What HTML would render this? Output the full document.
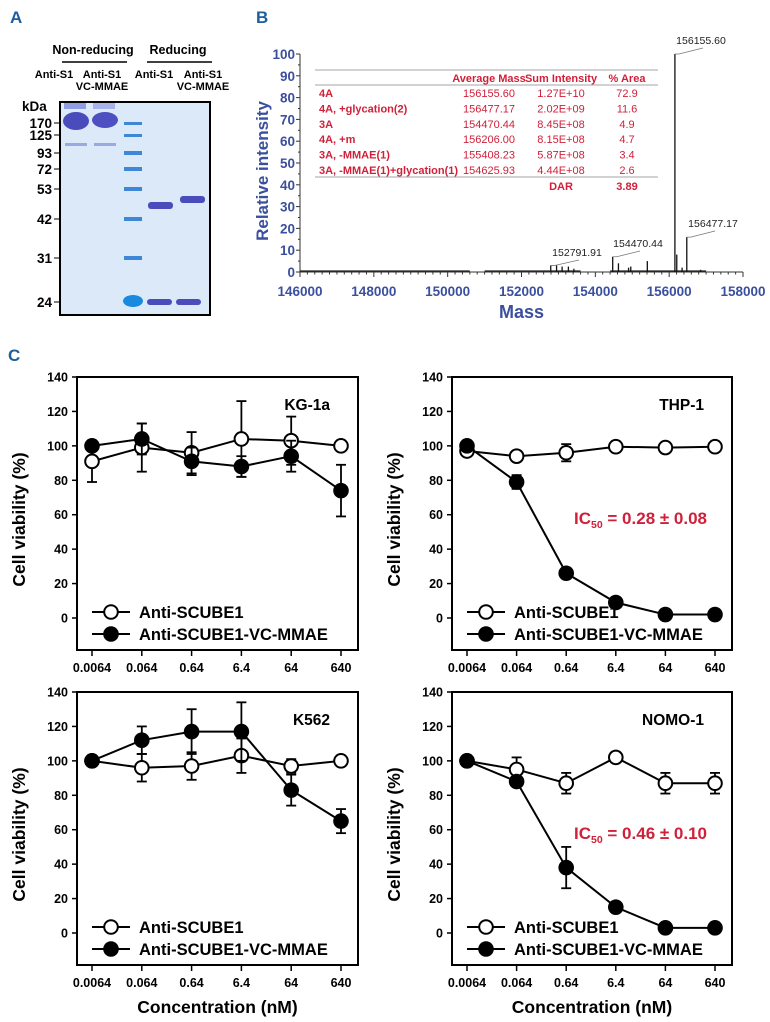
<!DOCTYPE html>
<html><head><meta charset="utf-8">
<style>
html,body{margin:0;padding:0;background:#fff;}
svg{display:block;font-family:"Liberation Sans",Arial,sans-serif;}
.b{font-weight:bold;}
</style></head>
<body>
<svg id="fig" width="770" height="1022" viewBox="0 0 770 1022" xmlns="http://www.w3.org/2000/svg">
<!-- Panel A -->
<g>
<text x="10" y="23" font-size="17" class="b" fill="#1d5f9c">A</text>
<text x="93" y="54" font-size="12.5" class="b" text-anchor="middle">Non-reducing</text>
<line x1="62" y1="62" x2="127" y2="62" stroke="#000" stroke-width="1.5"/>
<text x="178" y="54" font-size="12.5" class="b" text-anchor="middle">Reducing</text>
<line x1="147" y1="62" x2="212" y2="62" stroke="#000" stroke-width="1.5"/>
<g font-size="11" class="b" text-anchor="middle">
<text x="54" y="78">Anti-S1</text>
<text x="102" y="78">Anti-S1</text><text x="102" y="90">VC-MMAE</text>
<text x="154" y="78">Anti-S1</text>
<text x="203" y="78">Anti-S1</text><text x="203" y="90">VC-MMAE</text>
</g>
<rect x="60" y="102" width="150" height="213" fill="#dce9f8" stroke="#000" stroke-width="2"/>
<g>
<rect x="64" y="103" width="22" height="6" fill="#8f9ee0"/>
<rect x="93" y="103" width="22" height="6" fill="#a6b4e8"/>
<ellipse cx="76" cy="121" rx="13" ry="9" fill="#4a4cbc"/>
<ellipse cx="105" cy="120" rx="13" ry="8" fill="#4d50c0"/>
<rect x="65" y="143" width="22" height="3" fill="#9aaae0"/>
<rect x="94" y="143" width="22" height="3" fill="#9aaae0"/>
<g fill="#3e86d6">
<rect x="124" y="122" width="18" height="3"/><rect x="124" y="134" width="18" height="3"/>
<rect x="124" y="151" width="18" height="4"/><rect x="124" y="167" width="18" height="4"/>
<rect x="124" y="187" width="18" height="4"/><rect x="124" y="217" width="18" height="4"/>
<rect x="124" y="256" width="18" height="4"/>
</g>
<ellipse cx="133" cy="301" rx="10" ry="6" fill="#1a8ae0"/>
<rect x="148" y="202" width="25" height="7" rx="3" fill="#4a4cbc"/>
<rect x="180" y="196" width="25" height="7" rx="3" fill="#4a4cbc"/>
<rect x="147" y="299" width="25" height="6" rx="3" fill="#4a4cbc"/>
<rect x="176" y="299" width="25" height="6" rx="3" fill="#4a4cbc"/>
</g>
<text x="22" y="111" font-size="13.5" class="b">kDa</text>
<g font-size="13.5" class="b" text-anchor="end">
<text x="52" y="128">170</text><text x="52" y="140">125</text><text x="52" y="158">93</text>
<text x="52" y="174">72</text><text x="52" y="194">53</text><text x="52" y="224">42</text>
<text x="52" y="263">31</text><text x="52" y="307">24</text>
</g>
<g stroke="#000" stroke-width="1">
<line x1="54" y1="123" x2="60" y2="123"/><line x1="54" y1="135" x2="60" y2="135"/><line x1="54" y1="153" x2="60" y2="153"/>
<line x1="54" y1="169" x2="60" y2="169"/><line x1="54" y1="189" x2="60" y2="189"/><line x1="54" y1="219" x2="60" y2="219"/>
<line x1="54" y1="258" x2="60" y2="258"/><line x1="54" y1="302" x2="60" y2="302"/>
</g>
</g>
<!-- Panel B -->
<g id="panelB">
<text x="256" y="23" font-size="17" class="b" fill="#1d5f9c">B</text>
</g>
<!-- Panel C -->
<g id="panelC">
<text x="8" y="361" font-size="17" class="b" fill="#1d5f9c">C</text>
</g>
</svg>
<script>
// ---- Panel B data ----
const massTicks = [146000,148000,150000,152000,154000,156000,158000];
const intensityTicks = [0,10,20,30,40,50,60,70,80,90,100];
const peakMasses = [152791.91,152950,153100,153270,153420,154470.44,154625.93,154900,154960,155408.23,156155.60,156206.00,156350,156477.17,156850];
const peakIntensities = [3,3,2.5,2.5,1.5,7,4,2,2.5,5,100,8,2,16,1];
const peakLabelMasses = ['156155.60','156477.17','154470.44','152791.91'];
const tableHeaders = ['Average Mass','Sum Intensity','% Area'];
const tableSpecies = ['4A','4A, +glycation(2)','3A','4A, +m','3A, -MMAE(1)','3A, -MMAE(1)+glycation(1)'];
const tableMass = ['156155.60','156477.17','154470.44','156206.00','155408.23','154625.93'];
const tableSum = ['1.27E+10','2.02E+09','8.45E+08','8.15E+08','5.87E+08','4.44E+08'];
const tableArea = ['72.9','11.6','4.9','4.7','3.4','2.6'];
const darValue = '3.89';

// ---- Panel C data ----
const concLabels = ['0.0064','0.064','0.64','6.4','64','640'];
const yTicksC = [0,20,40,60,80,100,120,140];
const kgOpen = [91,99,96,104,103,100];
const kgOpenErr = [12,14,12,22,14,1];
const kgFilled = [100,104,91,88,94,74];
const kgFilledErr = [1,9,8,6,9,15];
const thpOpen = [97,94,96,99.5,99,99.5];
const thpOpenErr = [2,2,5,2,1,1];
const thpFilled = [100,79,26,9,2,2];
const thpFilledErr = [1,4,3,1,1,1];
const k562Open = [100,96,97,103,97,100];
const k562OpenErr = [1,8,8,10,4,1];
const k562Filled = [100,112,117,117,83,65];
const k562FilledErr = [1,8,13,17,9,7];
const nomoOpen = [100,95,87,102,87,87];
const nomoOpenErr = [1,7,6,3,6,6];
const nomoFilled = [100,88,38,15,3,3];
const nomoFilledErr = [1,2,12,1,1,1];

const NS='http://www.w3.org/2000/svg';
function mk(tag, attrs, parent, text){
  const e=document.createElementNS(NS,tag);
  for(const k in attrs) e.setAttribute(k,attrs[k]);
  if(text!==undefined) e.textContent=text;
  parent.appendChild(e); return e;
}

// ---- draw Panel B ----
(function(){
  const g=document.getElementById('panelB');
  const xL=300,xR=743,y0=272,yT=54;
  const xs=m=>xL+(m-146000)/(158000-146000)*(xR-xL);
  const ys=v=>y0-v/100*(y0-yT);
  const blue='#3b4f9f';
  const ax=mk('g',{},g);
  
  
  mk('line',{x1:xL,y1:yT,x2:xL,y2:y0,stroke:'#333','stroke-width':1},ax);
  mk('line',{x1:xL,y1:y0,x2:xR,y2:y0,stroke:'#333','stroke-width':1},ax);
  intensityTicks.forEach(v=>{
    mk('line',{x1:xL-4,y1:ys(v),x2:xL,y2:ys(v),stroke:'#333'},ax);
    const t=mk('text',{x:xL-5,y:ys(v)+5,'font-size':13.5,'font-weight':'bold',fill:blue,'text-anchor':'end'},ax,v);
    
    
    if(v<100) mk('line',{x1:xL-2,y1:ys(v+5),x2:xL,y2:ys(v+5),stroke:'#333'},ax);
  });
  massTicks.forEach((m,i)=>{
    mk('line',{x1:xs(m),y1:y0,x2:xs(m),y2:y0+5,stroke:'#333'},ax);
    if(i<massTicks.length-1) for(let k=1;k<10;k++) mk('line',{x1:xs(m+k*200),y1:y0,x2:xs(m+k*200),y2:y0+2.5,stroke:'#333'},ax);
    const t=mk('text',{x:xs(m),y:y0+24,'font-size':13.5,'font-weight':'bold',fill:blue,'text-anchor':'middle'},ax,m);
    
    
  });
  const xt=mk('text',{x:(xL+xR)/2,y:318,'font-size':18,'font-weight':'bold',fill:blue,'text-anchor':'middle'},g,'Mass');
  
  
  const yt=mk('text',{x:0,y:0,'font-size':17,'font-weight':'bold',fill:blue,'text-anchor':'middle',transform:`translate(268,${(yT+y0)/2+8}) rotate(-90)`},g,'Relative intensity');
  
  
  const noise=mk('path',{d:`M${xL} ${y0-1}L${xs(150600)} ${y0-1}M${xs(151000)} ${y0-1}L${xs(153600)} ${y0-1}M${xs(154400)} ${y0-1}L${xs(157000)} ${y0-1}`,stroke:'#222','stroke-width':1.2,fill:'none'},g);
  
  
  peakMasses.forEach((m,i)=>{
    const p=mk('line',{x1:xs(m),y1:y0,x2:xs(m),y2:ys(peakIntensities[i]),stroke:'#111','stroke-width':1.3},g);
    
    
  });
  const lbl=[[156155.60,100,701,44],[156477.17,16,713,227],[154470.44,7,638,247],[152791.91,3,577,256]];
  lbl.forEach((l,i)=>{
    mk('polyline',{points:`${xs(l[0])},${ys(l[1])} ${xs(l[0])+4},${ys(l[1])} ${l[2]+2},${l[3]+4}`,fill:'none',stroke:'#777','stroke-width':0.8},g);
    const t=mk('text',{x:l[2],y:l[3],'font-size':10.5,fill:'#222','text-anchor':'middle'},g,peakLabelMasses[i]);
    
    
  });
  const tg=mk('g',{'font-size':11,fill:'#d0203a','font-weight':'bold'},g);
  
  
  mk('line',{x1:315,y1:70,x2:658,y2:70,stroke:'#888','stroke-width':0.8},tg);
  mk('line',{x1:315,y1:85,x2:658,y2:85,stroke:'#888','stroke-width':0.8},tg);
  mk('line',{x1:315,y1:177,x2:658,y2:177,stroke:'#888','stroke-width':0.8},tg);
  const cx=[489,561,627];
  tableHeaders.forEach((h,i)=>mk('text',{x:cx[i],y:82,'text-anchor':'middle'},tg,h));
  tableSpecies.forEach((s,i)=>{
    const y=97+i*15.4;
    mk('text',{x:319,y:y},tg,s);
    mk('text',{x:cx[0],y:y,'text-anchor':'middle','font-weight':'normal'},tg,tableMass[i]);
    mk('text',{x:cx[1],y:y,'text-anchor':'middle','font-weight':'normal'},tg,tableSum[i]);
    mk('text',{x:cx[2],y:y,'text-anchor':'middle','font-weight':'normal'},tg,tableArea[i]);
  });
  mk('text',{x:cx[1],y:190,'text-anchor':'middle'},tg,'DAR');
  mk('text',{x:cx[2],y:190,'text-anchor':'middle'},tg,darValue);
})();

// ---- draw Panel C ----
function drawChart(cfg){
  const g=mk('g',{},document.getElementById('panelC'));
  
  
  const {xL,xR,yT,y0,yB}=cfg;
  const ys=v=>y0-v/140*(y0-yT);
  const xs=i=>xL+15+i*((xR-xL-32)/5);
  const fr=mk('rect',{x:xL,y:yT,width:xR-xL,height:yB-yT,fill:'none',stroke:'#000','stroke-width':2},g);
  
  
  yTicksC.forEach(v=>{
    mk('line',{x1:xL-5,y1:ys(v),x2:xL,y2:ys(v),stroke:'#000','stroke-width':1.5},g);
    const t=mk('text',{x:xL-9,y:ys(v)+4.5,'font-size':12.5,'font-weight':'bold','text-anchor':'end'},g,v);
    
    
  });
  concLabels.forEach((c,i)=>{
    mk('line',{x1:xs(i),y1:yB,x2:xs(i),y2:yB+6,stroke:'#000','stroke-width':1.5},g);
    const t=mk('text',{x:xs(i),y:yB+22,'font-size':12.5,'font-weight':'bold','text-anchor':'middle'},g,c);
    
    
  });
  const yt=mk('text',{x:0,y:0,'font-size':17.5,'font-weight':'bold','text-anchor':'middle',transform:`translate(${xL-52},${(yT+yB)/2+6}) rotate(-90)`},g,'Cell viability (%)');
  
  
  if(cfg.xTitle){
    const xt=mk('text',{x:(xL+xR)/2,y:yB+48,'font-size':17.5,'font-weight':'bold','text-anchor':'middle'},g,'Concentration (nM)');
    
    
  }
  const cl=mk('text',{x:xR-28,y:yT+33,'font-size':15.5,'font-weight':'bold','text-anchor':'end'},g,cfg.label);
  
  
  if(cfg.ic50){
    const t=mk('text',{x:xL+122,y:yT+147,'font-size':17,'font-weight':'bold',fill:'#d0203a'},g);
    
    
    mk('tspan',{},t,'IC');
    mk('tspan',{'font-size':10.5,dy:4},t,'50');
    mk('tspan',{dy:-4},t,' = '+cfg.ic50);
  }
  function series(vals,errs,fill,nm){
    const sg=mk('g',{},g);
    
    
    mk('polyline',{points:vals.map((v,i)=>xs(i)+','+ys(v)).join(' '),fill:'none',stroke:'#000','stroke-width':2},sg);
    vals.forEach((v,i)=>{
      const e=errs[i];
      if(e>2){
        mk('line',{x1:xs(i),y1:ys(v-e),x2:xs(i),y2:ys(v+e),stroke:'#000','stroke-width':1.8},sg);
        mk('line',{x1:xs(i)-5,y1:ys(v-e),x2:xs(i)+5,y2:ys(v-e),stroke:'#000','stroke-width':1.8},sg);
        mk('line',{x1:xs(i)-5,y1:ys(v+e),x2:xs(i)+5,y2:ys(v+e),stroke:'#000','stroke-width':1.8},sg);
      }
    });
    vals.forEach((v,i)=>{
      const c=mk('circle',{cx:xs(i),cy:ys(v),r:6.8,fill:fill,stroke:'#000','stroke-width':2},sg);
      
      
    });
  }
  series(cfg.open,cfg.openErr,'#fff','series-anti-scube1');
  series(cfg.filled,cfg.filledErr,'#000','series-anti-scube1-vc-mmae');
  const lg=mk('g',{},g);
  
  
  [['Anti-SCUBE1','#fff',y0-6],['Anti-SCUBE1-VC-MMAE','#000',y0+16]].forEach(r=>{
    const eg=mk('g',{},lg);
    
    
    mk('line',{x1:xL+15,y1:r[2],x2:xL+53,y2:r[2],stroke:'#000','stroke-width':2},eg);
    mk('circle',{cx:xL+34,cy:r[2],r:6.8,fill:r[1],stroke:'#000','stroke-width':2},eg);
    mk('text',{x:xL+62,y:r[2]+6,'font-size':16.5,'font-weight':'bold'},eg,r[0]);
  });
}
drawChart({name:'chart-kg1a',label:'KG-1a',xL:77,xR:358,yT:377,y0:618,yB:650,open:kgOpen,openErr:kgOpenErr,filled:kgFilled,filledErr:kgFilledErr});
drawChart({name:'chart-thp1',label:'THP-1',xL:452,xR:732,yT:377,y0:618,yB:650,open:thpOpen,openErr:thpOpenErr,filled:thpFilled,filledErr:thpFilledErr,ic50:'0.28 \u00b1 0.08'});
drawChart({name:'chart-k562',label:'K562',xL:77,xR:358,yT:692,y0:933,yB:965,open:k562Open,openErr:k562OpenErr,filled:k562Filled,filledErr:k562FilledErr,xTitle:true});
drawChart({name:'chart-nomo1',label:'NOMO-1',xL:452,xR:732,yT:692,y0:933,yB:965,open:nomoOpen,openErr:nomoOpenErr,filled:nomoFilled,filledErr:nomoFilledErr,xTitle:true,ic50:'0.46 \u00b1 0.10'});
</script>
</body></html>
